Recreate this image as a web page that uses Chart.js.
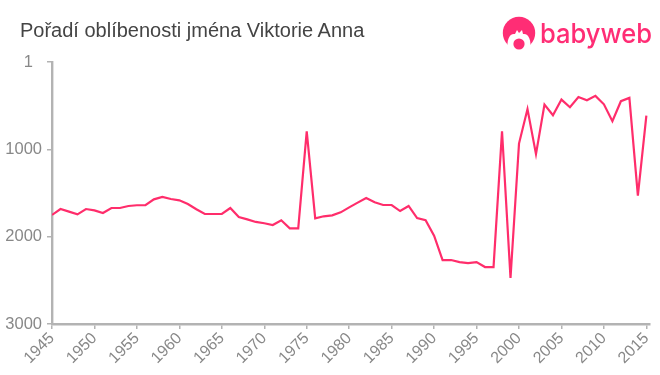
<!DOCTYPE html>
<html>
<head>
<meta charset="utf-8">
<title>Pořadí oblíbenosti jména Viktorie Anna</title>
<script src="https://cdn.jsdelivr.net/npm/chart.js@4"></script>
<style>
    html, body { margin: 0; padding: 0; background: #fff; }
    #wrap { position: relative; width: 660px; height: 375px; overflow: hidden; }
    #title {
        position: absolute; left: 20px; top: 19px; margin: 0;
        font: 400 20px "Liberation Sans", Arial, sans-serif; color: #444;
        white-space: nowrap;
    }
    #logo { position: absolute; left: 490px; top: 5px; }
    canvas { position: absolute; left: 0; top: 0; }
</style>
</head>
<body>
<div id="wrap">
    <canvas id="chart" width="660" height="375"></canvas>
    <h1 id="title">Pořadí oblíbenosti jména Viktorie Anna</h1>
    <svg id="logo" width="170" height="60" viewBox="0 0 170 60">
        <circle cx="29" cy="28" r="16.2" fill="#ff2d75"/>
        <path d="M18 46 C16 34 20 28 25 29 L27 25 L29 28 L32 25 L33 29 C38 28 42 34 40 46 Z" fill="#fff"/>
        <circle cx="29" cy="39" r="5.6" fill="#ff2d75"/>
        <text x="50" y="38" font-family="Inter, Lato, sans-serif" font-size="27" font-weight="500"
              fill="#ff2d75" textLength="112" lengthAdjust="spacingAndGlyphs">babyweb</text>
    </svg>
</div>
<script>
const years = [
    1945, 1946, 1947, 1948, 1949, 1950, 1951, 1952, 1953, 1954,
    1955, 1956, 1957, 1958, 1959, 1960, 1961, 1962, 1963, 1964,
    1965, 1966, 1967, 1968, 1969, 1970, 1971, 1972, 1973, 1974,
    1975, 1976, 1977, 1978, 1979, 1980, 1981, 1982, 1983, 1984,
    1985, 1986, 1987, 1988, 1989, 1990, 1991, 1992, 1993, 1994,
    1995, 1996, 1997, 1998, 1999, 2000, 2001, 2002, 2003, 2004,
    2005, 2006, 2007, 2008, 2009, 2010, 2011, 2012, 2013, 2014,
    2015
];
const ranks = [
    1752, 1684, 1714, 1745, 1684, 1699, 1730, 1672, 1672, 1649,
    1641, 1641, 1573, 1546, 1569, 1584, 1626, 1687, 1741, 1741,
    1741, 1672, 1775, 1802, 1832, 1847, 1867, 1813, 1905, 1905,
    794, 1790, 1767, 1756, 1722, 1665, 1611, 1558, 1607, 1638,
    1638, 1707, 1649, 1787, 1813, 1989, 2268, 2268, 2291, 2302,
    2291, 2348, 2348, 794, 2474, 935, 540, 1055, 488, 610,
    431, 519, 401, 439, 389, 485, 679, 450, 412, 1530,
    614
];
const yTicks = [1, 1000, 2000, 3000];

const lineColor = "#ff2d6b";
const axisColor = "#b3b3b3";
const tickColor = "#888888";
const yTickFont = { family: "'Liberation Sans', Arial, sans-serif", size: 16.5 };
const xTickFont = { family: "'Liberation Sans', Arial, sans-serif", size: 16 };

new Chart(document.getElementById("chart"), {
    type: "line",
    data: {
        labels: years,
        datasets: [{
            data: years.map((y, i) => ({ x: y, y: ranks[i] })),
            borderColor: lineColor,
            borderWidth: 2.2,
            pointRadius: 0,
            tension: 0,
            fill: false
        }]
    },
    options: {
        responsive: false,
        animation: false,
        layout: {
            autoPadding: false,
            padding: { left: 0, right: 10, top: 62, bottom: 0 }
        },
        plugins: {
            legend: { display: false },
            tooltip: { enabled: false }
        },
        scales: {
            x: {
                type: "linear",
                min: 1945,
                max: 2015.4,
                afterFit: scale => { scale.height = 51; },
                border: { color: axisColor, width: 2.4 },
                grid: { drawOnChartArea: false, color: axisColor, tickLength: 5, lineWidth: 1.5 },
                ticks: {
                    stepSize: 5,
                    includeBounds: false,
                    minRotation: 45,
                    maxRotation: 45,
                    padding: 0,
                    color: tickColor,
                    font: xTickFont,
                    callback: value => String(value)
                }
            },
            y: {
                type: "linear",
                reverse: true,
                min: 1,
                max: 3000,
                afterFit: scale => { scale.width = 52; },
                afterBuildTicks: scale => {
                    scale.ticks = yTicks.map(v => ({ value: v }));
                },
                border: { color: axisColor, width: 2.4 },
                grid: { drawOnChartArea: false, color: axisColor, tickLength: 5, lineWidth: 1.5 },
                ticks: {
                    padding: 5,
                    color: tickColor,
                    font: yTickFont,
                    // the "1" sits further left than the other labels in the reference
                    callback: value => value === 1 ? "1  " : String(value)
                }
            }
        }
    }
});
</script>
</body>
</html>
